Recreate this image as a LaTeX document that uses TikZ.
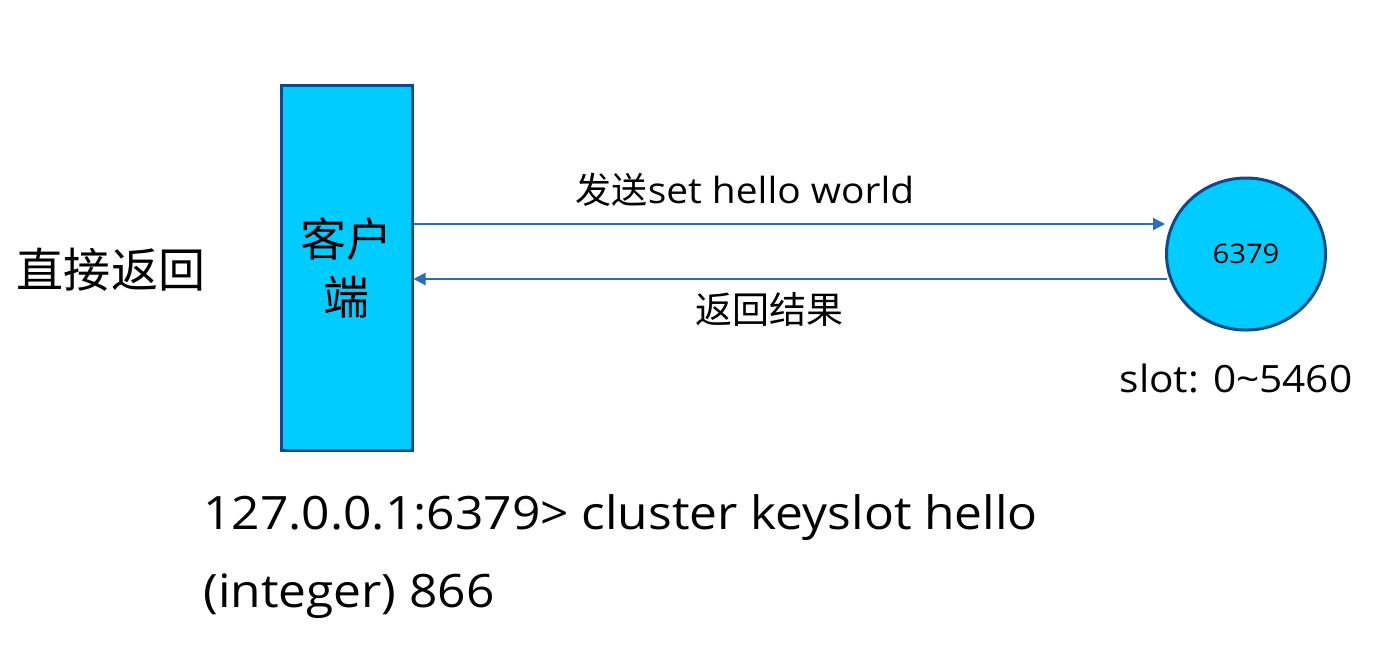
\documentclass[tikz,border=0pt]{standalone}
\usepackage{fontspec}
\setmainfont[FakeStretch=1.08]{Open Sans}
\newfontfamily\cjk{Noto Sans CJK SC}
\usetikzlibrary{arrows.meta,shapes.geometric}
\definecolor{boxfill}{RGB}{0,204,255}
\definecolor{boxline}{RGB}{10,75,140}
\definecolor{arrowc}{RGB}{40,110,190}
\begin{document}
\begin{tikzpicture}[x=0.5pt,y=-0.5pt,
  conn/.style={draw=arrowc,line width=1pt,-{Triangle[length=6pt,width=6pt]}},
  lbl/.style={inner sep=0pt,font=\fontsize{18}{20}\selectfont}]
\useasboundingbox (0,0) rectangle (1379,645);
\fill[white] (0,0) rectangle (1379,645);
\node[draw=boxline,fill=boxfill,line width=1.5pt,minimum width=65.5pt,minimum height=182.5pt,inner sep=0pt,align=center,font=\cjk\fontsize{23}{29}\selectfont] (client) at (346.5,267.5) {客户\\端};
\node[ellipse,draw=boxline,fill=boxfill,line width=1.5pt,minimum width=79.5pt,minimum height=76pt,inner sep=0pt,font=\fontsize{13.5}{15}\selectfont] (server) at (1246,254) {6379};
\coordinate (a1) at (client.east |- 0,224);
\coordinate (a2) at (server.west |- 0,224);
\coordinate (b1) at (client.east |- 0,279);
\coordinate (b2) at (1167,279);
\draw[conn] (a1) -- (a2);
\draw[conn] (b2) -- (b1);
\node[lbl] (send) at (745,190) {{\cjk 发送}set hello world};
\node[lbl,font=\cjk\fontsize{18.5}{20}\selectfont] (ret) at (769,309) {返回结果};
\node[lbl,font=\cjk\fontsize{23.5}{26}\selectfont] (direct) at (111,270) {直接返回};
\node[lbl,font=\fontsize{18.8}{21}\selectfont] (slot) at (1236,378) {slot: 0\textasciitilde5460};
\node[lbl,anchor=west,font=\fontsize{23}{26}\selectfont] (cmd) at (203,518) {127.0.0.1:6379> cluster keyslot hello};
\node[lbl,anchor=west,font=\fontsize{23}{26}\selectfont] (res) at (203,596) {(integer) 866};
\end{tikzpicture}
\end{document}
